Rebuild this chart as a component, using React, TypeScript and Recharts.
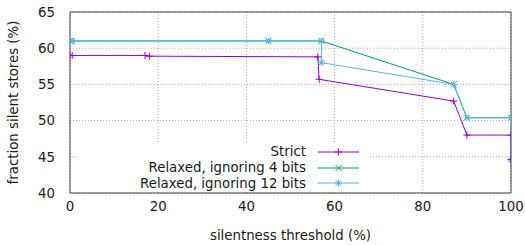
import React from 'react';
import {
  LineChart,
  Line,
  XAxis,
  YAxis,
  CartesianGrid,
  ReferenceLine,
} from 'recharts';

// series values
const strictX = [0, 0.5, 17, 18, 56.2, 56.5, 87, 90, 100, 100];
const strictY = [59, 59, 59, 58.9, 58.8, 55.7, 52.7, 48, 48, 44.6];

const relaxed4X = [0, 0.5, 45, 57, 87, 90, 100];
const relaxed4Y = [61, 61, 61, 61, 55, 50.4, 50.4];

const relaxed12X = [0, 0.5, 45, 57, 57, 87, 90, 100, 100];
const relaxed12Y = [61, 61, 61, 61, 58, 55, 50.4, 50.4, 44.6];

const xTicks = [0, 20, 40, 60, 80, 100];
const yTicks = [40, 45, 50, 55, 60, 65];

const toPoints = (xs: number[], ys: number[]) => xs.map((x, i) => ({ x, y: ys[i] }));

const strictData = toPoints(strictX, strictY);
const relaxed4Data = toPoints(relaxed4X, relaxed4Y);
const relaxed12Data = toPoints(relaxed12X, relaxed12Y);

type Marker = 'plus' | 'cross' | 'star';

function markerPath(kind: Marker, cx: number, cy: number, r = 3.5): string {
  const plus = `M${cx - r},${cy}H${cx + r}M${cx},${cy - r}V${cy + r}`;
  const d = r * 0.8;
  const cross = `M${cx - d},${cy - d}L${cx + d},${cy + d}M${cx - d},${cy + d}L${cx + d},${cy - d}`;
  if (kind === 'plus') return plus;
  if (kind === 'cross') return cross;
  return plus + cross;
}

const makeDot = (kind: Marker, color: string) => (props: any) => {
  const { cx, cy, index } = props;
  if (cx == null || cy == null) return <g key={`d-${kind}-${index}`} />;
  return (
    <path
      key={`d-${kind}-${index}`}
      d={markerPath(kind, cx, cy)}
      stroke={color}
      strokeWidth={1}
      fill="none"
    />
  );
};

const series = [
  { name: 'Strict', color: '#9400d3', marker: 'plus' as Marker, data: strictData },
  { name: 'Relaxed, ignoring 4 bits', color: '#009e73', marker: 'cross' as Marker, data: relaxed4Data },
  { name: 'Relaxed, ignoring 12 bits', color: '#56b4e9', marker: 'star' as Marker, data: relaxed12Data },
];
// strict goes on top so its end marker at 100% stays visible
const drawOrder = [series[1], series[2], series[0]];

const font = '"DejaVu Sans", sans-serif';
const fontSize = 13.33; // 10pt
const textColor = '#1a1a1a';

// gnuplot-style key, white box over the grid
const KeyBox = () => (
  <div
    style={{
      position: 'absolute',
      left: 77,
      top: 144,
      width: 291,
      height: 47,
      background: '#fff',
      fontFamily: font,
      fontSize,
      color: textColor,
    }}
  >
    {series.map((s) => (
      <div
        key={s.name}
        style={{ display: 'flex', alignItems: 'center', height: 15.8, justifyContent: 'flex-end', paddingRight: 9 }}
      >
        <span style={{ whiteSpace: 'nowrap', lineHeight: '15px' }}>{s.name}</span>
        <svg width={41} height={10} style={{ marginLeft: 12 }}>
          <line x1={0} y1={5} x2={41} y2={5} stroke={s.color} strokeWidth={1} />
          <path d={markerPath(s.marker, 20.5, 5)} stroke={s.color} strokeWidth={1} fill="none" />
        </svg>
      </div>
    ))}
  </div>
);

export default function App() {
  return (
    <div style={{ position: 'absolute', left: 0, top: 0, width: 525, height: 245, background: '#fff' }}>
      <LineChart width={525} height={245} margin={{ top: 12, right: 14, left: 0, bottom: 0 }}>
        <CartesianGrid stroke="#b0b0b0" strokeDasharray="1 2" />
        <XAxis
          type="number"
          dataKey="x"
          domain={[0, 100]}
          ticks={xTicks}
          allowDataOverflow
          height={52}
          tickLine={false}
          tickMargin={3}
          stroke="#404040"
          tick={{ fill: textColor, fontSize, fontFamily: font }}
          label={{ value: 'silentness threshold (%)', position: 'insideBottom', offset: 5, fill: textColor, fontSize, fontFamily: font }}
        />
        <YAxis
          type="number"
          dataKey="y"
          domain={[40, 65]}
          ticks={yTicks}
          allowDataOverflow
          width={70}
          tickLine={false}
          tickMargin={9}
          stroke="#404040"
          tick={{ fill: textColor, fontSize, fontFamily: font }}
          label={{
            value: 'fraction silent stores (%)',
            angle: -90,
            position: 'insideLeft',
            offset: 13,
            fill: textColor,
            fontSize,
            fontFamily: font,
            style: { textAnchor: 'middle' },
          }}
        />
        <ReferenceLine y={65} stroke="#404040" />
        <ReferenceLine x={100} stroke="#404040" />
        {drawOrder.map((s) => (
          <Line
            key={s.name}
            data={s.data}
            dataKey="y"
            name={s.name}
            type="linear"
            stroke={s.color}
            strokeWidth={1}
            dot={makeDot(s.marker, s.color)}
            activeDot={false}
            isAnimationActive={false}
          />
        ))}
      </LineChart>
      <KeyBox />
    </div>
  );
}
